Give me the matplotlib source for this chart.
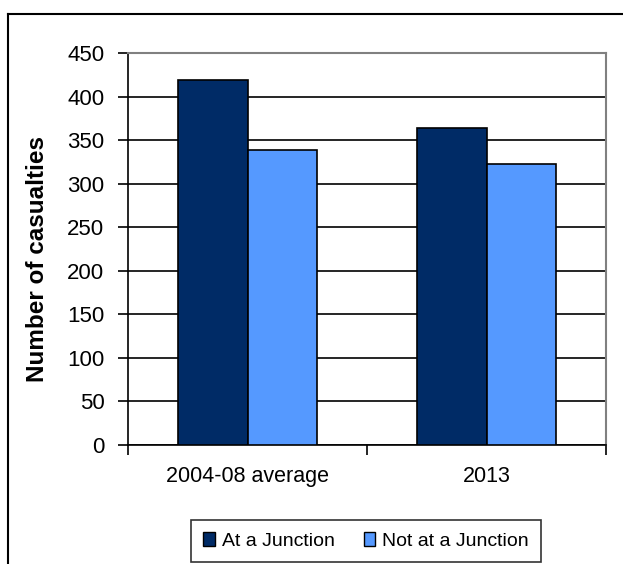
import matplotlib
matplotlib.use("Agg")
import matplotlib.pyplot as plt
import numpy as np
from matplotlib.lines import Line2D
from matplotlib.patches import Patch

plt.rcParams['font.family'] = ['Liberation Sans', 'DejaVu Sans']

categories = ["2004-08 average", "2013"]
series_names = ["At a Junction", "Not at a Junction"]
at_junction = [419, 364]
not_at_junction = [339, 323]
yticks = [0, 50, 100, 150, 200, 250, 300, 350, 400, 450]
colors = ["#002B66", "#5599FF"]

W, H = 623, 564
fig = plt.figure(figsize=(W / 100, H / 100), dpi=100)
ax = fig.add_axes([128 / W, (H - 445) / H, (606 - 128) / W, (445 - 53) / H])

x = np.arange(len(categories))
bw = 0.29
ax.bar(x - bw / 2, at_junction, bw, color=colors[0], edgecolor="black", linewidth=1.2, zorder=3)
ax.bar(x + bw / 2, not_at_junction, bw, color=colors[1], edgecolor="black", linewidth=1.2, zorder=3)

ax.set_xlim(-0.5, len(categories) - 0.5)
ax.set_ylim(0, 450)
ax.set_yticks(yticks)
ax.set_yticklabels([str(v) for v in yticks], fontsize=16)
ax.yaxis.grid(True, color="black", linewidth=1.2, zorder=0)
ax.set_axisbelow(True)

ax.set_xticks(x)
ax.set_xticklabels(categories, fontsize=15.5)
ax.tick_params(axis='x', length=0, pad=15)
ax.set_xticks([-0.5, 0.5, 1.5], minor=True)
ax.tick_params(axis='x', which='minor', length=7, width=1.2, direction='out')
ax.tick_params(axis='y', length=7, width=1.2, direction='out', pad=10)

for s in ['left', 'bottom']:
    ax.spines[s].set_color('black')
    ax.spines[s].set_linewidth(1.2)
for s in ['top', 'right']:
    ax.spines[s].set_color('#808080')
    ax.spines[s].set_linewidth(1.5)

ax.set_ylabel("Number of casualties", fontsize=17.5, fontweight='bold')
ax.yaxis.label.set_va('center')
ax.yaxis.set_label_coords(38 / W, (H - 259) / H, transform=fig.transFigure)

handles = [Patch(facecolor=colors[i], edgecolor='black', label=series_names[i]) for i in range(2)]
leg = fig.legend(handles=handles, loc='center', bbox_to_anchor=(366 / W, (H - 541) / H),
                 ncol=2, fontsize=14, frameon=True, fancybox=False, edgecolor='black',
                 handlelength=0.6, handleheight=0.7, handletextpad=0.35, columnspacing=1.5,
                 borderpad=0.65)
leg.get_frame().set_linewidth(1.2)

# outer chart frame
fig.add_artist(Line2D([8 / W, 8 / W], [0, (H - 14) / H], color='black', linewidth=1.5, transform=fig.transFigure))
fig.add_artist(Line2D([8 / W, 1], [(H - 14) / H, (H - 14) / H], color='black', linewidth=1.5, transform=fig.transFigure))

fig.savefig("out.png", dpi=100)
